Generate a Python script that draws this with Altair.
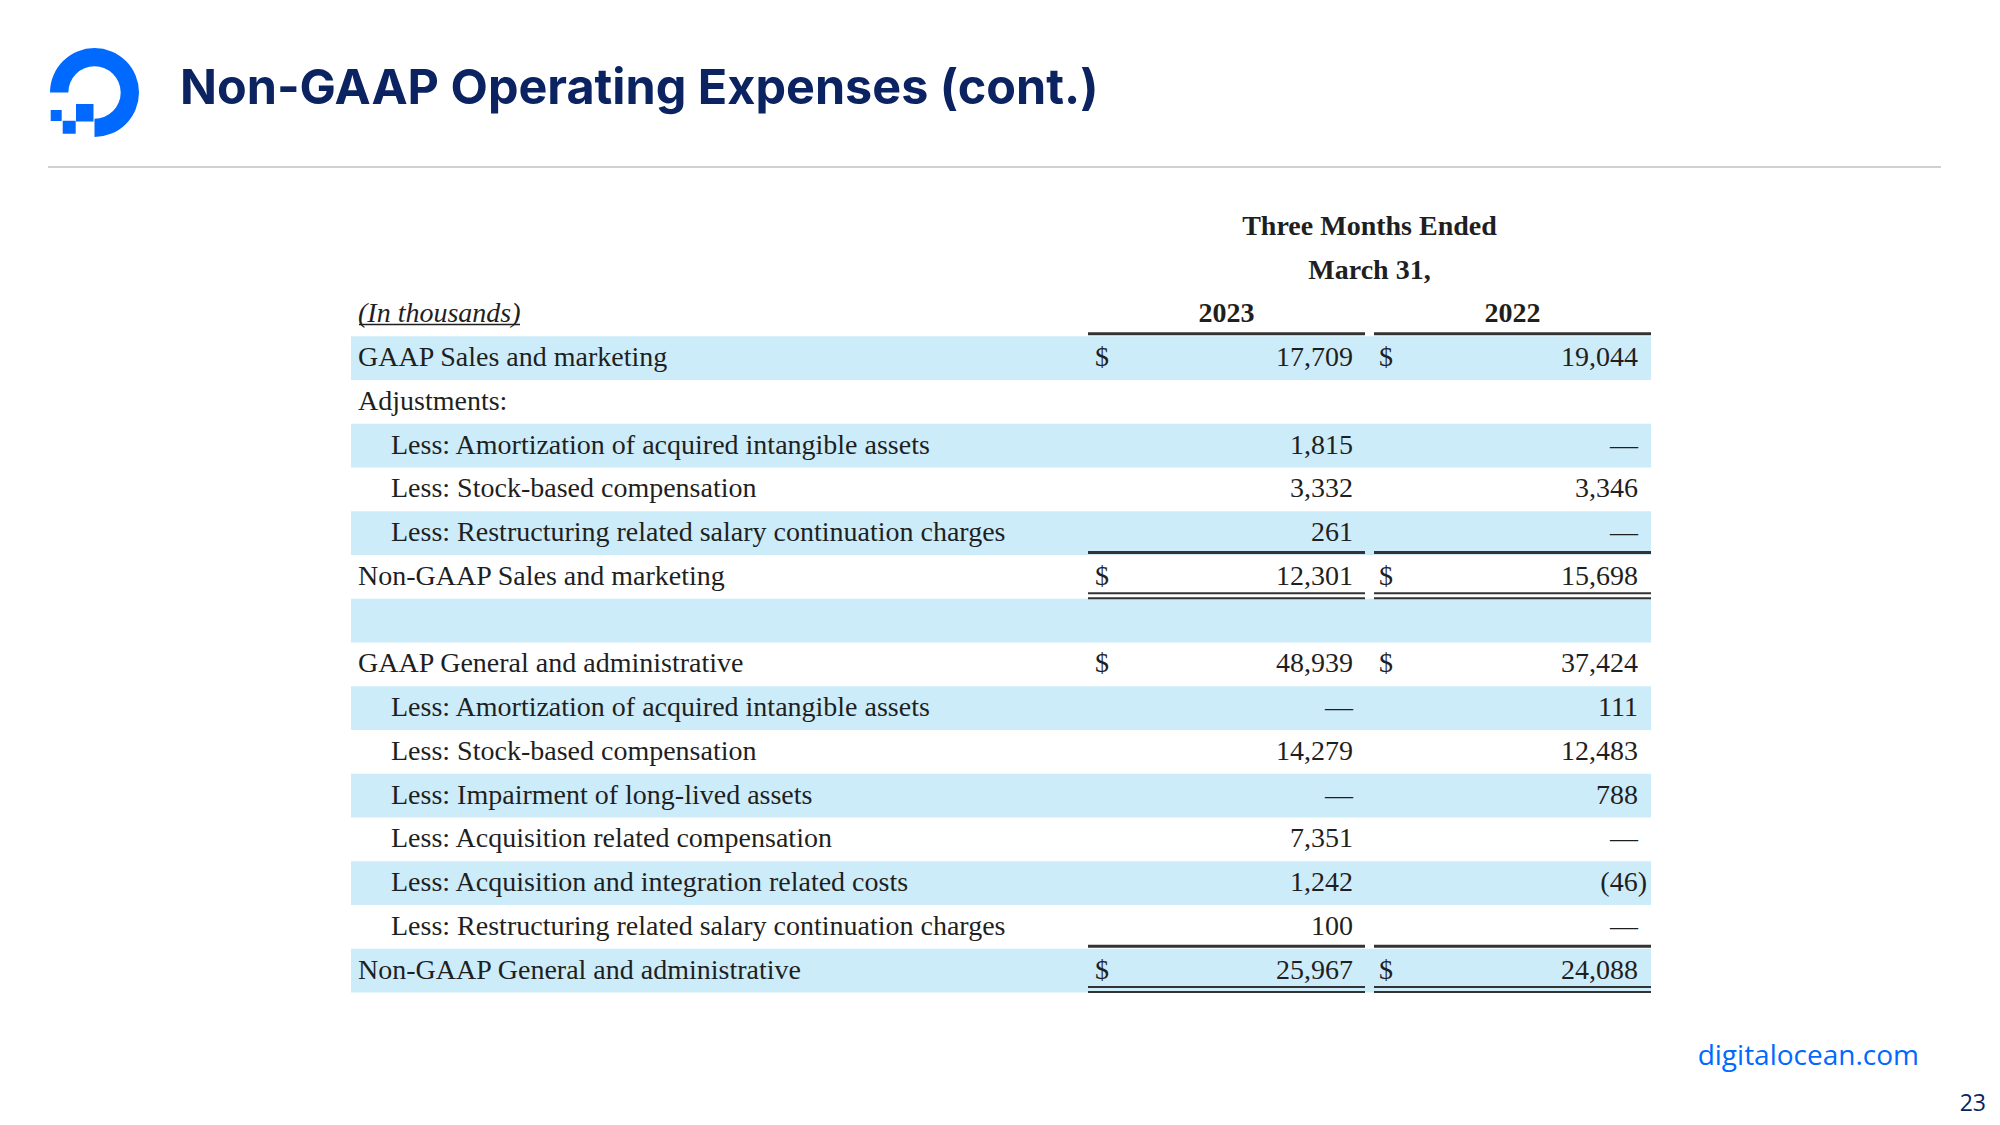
import math
import altair as alt
import pandas as pd

# ---------------- data ----------------
title = "Non-GAAP Operating Expenses (cont.)"
header_top = ["Three Months Ended", "March 31,"]
unit_label = "(In thousands)"
years = ["2023", "2022"]

labels = [
    "GAAP Sales and marketing",
    "Adjustments:",
    "Less: Amortization of acquired intangible assets",
    "Less: Stock-based compensation",
    "Less: Restructuring related salary continuation charges",
    "Non-GAAP Sales and marketing",
    "",
    "GAAP General and administrative",
    "Less: Amortization of acquired intangible assets",
    "Less: Stock-based compensation",
    "Less: Impairment of long-lived assets",
    "Less: Acquisition related compensation",
    "Less: Acquisition and integration related costs",
    "Less: Restructuring related salary continuation charges",
    "Non-GAAP General and administrative",
]
v2023 = [17709, None, 1815, 3332, 261, 12301, None, 48939, 0, 14279, 0, 7351, 1242, 100, 25967]
v2022 = [19044, None, 0, 3346, 0, 15698, None, 37424, 111, 12483, 788, 0, -46, 0, 24088]

footer_site = "digitalocean.com"
page_no = "23"

# ---------------- layout helpers ----------------
OFF = 8  # page margin


def P(v):
    return v - OFF


SERIF = "Liberation Serif"
FS = 28
INK = "#1f1f1f"
SHADE = "#CDECFA"
LINE = "#333333"
NAVY = "#0B2361"
BLUE = "#0069FF"


def fmt(v):
    if v is None:
        return ""
    if v == 0:
        return "\u2014"
    if v < 0:
        return f"({-v:,})"
    return f"{v:,}"


row_keys = [f"r{i:02d}" for i in range(18)]
body = pd.DataFrame({
    "row": row_keys[3:],
    "label": labels,
    "t23": [fmt(v) for v in v2023],
    "t22": [fmt(v) for v in v2022],
    "idx": list(range(len(labels))),
})
body["shaded"] = body["idx"] % 2 == 0
body["total"] = body["label"].str.startswith("GAAP") | body["label"].str.startswith("Non-GAAP")
body["subtotal"] = body["label"].str.startswith("Non-GAAP")
body["indent"] = body["label"].str.startswith("Less:")
body["neg"] = body["t22"].str.startswith("(")
body["dollar"] = body["total"].map(lambda b: "$" if b else "")

yscale = alt.Scale(type="band", domain=row_keys, range=[P(205), P(992.5)],
                   paddingInner=0, paddingOuter=0)


def Yc(pos=0.5):
    return alt.Y("row:N", scale=yscale, axis=None, bandPosition=pos)


layers = []

# shaded bands
layers.append(
    alt.Chart(body[body["shaded"]]).mark_rect(color=SHADE).encode(
        y=alt.Y("row:N", scale=yscale, axis=None),
        x=alt.value(P(351)), x2=alt.value(P(1651)),
    )
)

# header rows
hdr = pd.DataFrame({"row": row_keys[:2], "t": header_top})
layers.append(
    alt.Chart(hdr).mark_text(font=SERIF, fontSize=FS, fontWeight="bold", color=INK,
                             align="center", baseline="middle").encode(
        y=Yc(), x=alt.value(P(1369.5)), text="t:N")
)
for yr, cx in zip(years, [1226.5, 1512.5]):
    layers.append(
        alt.Chart(pd.DataFrame({"row": [row_keys[2]], "t": [yr]})).mark_text(
            font=SERIF, fontSize=FS, fontWeight="bold", color=INK,
            align="center", baseline="middle").encode(
            y=Yc(), x=alt.value(P(cx)), text="t:N")
    )
unit_df = pd.DataFrame({"row": [row_keys[2]], "t": [unit_label]})
layers.append(
    alt.Chart(unit_df).mark_text(font=SERIF, fontSize=FS, fontStyle="italic", color=INK,
                                 align="left", baseline="middle").encode(
        y=Yc(), x=alt.value(P(358)), text="t:N")
)
layers.append(
    alt.Chart(unit_df).mark_rule(color=INK, strokeWidth=1.5, yOffset=10).encode(
        y=Yc(), x=alt.value(P(359)), x2=alt.value(P(520)))
)

# labels
for flag, xx in [(False, 358), (True, 391)]:
    layers.append(
        alt.Chart(body[body["indent"] == flag]).mark_text(
            font=SERIF, fontSize=FS, color=INK, align="left", baseline="middle").encode(
            y=Yc(), x=alt.value(P(xx)), text="label:N")
    )

# dollar signs
for xx in [1095, 1379]:
    layers.append(
        alt.Chart(body[body["total"]]).mark_text(
            font=SERIF, fontSize=FS, color=INK, align="left", baseline="middle").encode(
            y=Yc(), x=alt.value(P(xx)), text="dollar:N")
    )

# values
layers.append(
    alt.Chart(body).mark_text(font=SERIF, fontSize=FS, color=INK, align="right",
                              baseline="middle").encode(
        y=Yc(), x=alt.value(P(1353)), text="t23:N")
)
layers.append(
    alt.Chart(body[~body["neg"]]).mark_text(font=SERIF, fontSize=FS, color=INK, align="right",
                                           baseline="middle").encode(
        y=Yc(), x=alt.value(P(1638)), text="t22:N")
)
layers.append(
    alt.Chart(body[body["neg"]]).mark_text(font=SERIF, fontSize=FS, color=INK, align="right",
                                          baseline="middle").encode(
        y=Yc(), x=alt.value(P(1647)), text="t22:N")
)

# rules
single = body[(body["idx"] == 0) | body["subtotal"]]
double = body[body["subtotal"]]
segs = [(1088, 1365), (1374, 1651)]
for a, b in segs:
    layers.append(
        alt.Chart(single).mark_rule(color=LINE, strokeWidth=3, yOffset=-2.5).encode(
            y=Yc(0), x=alt.value(P(a)), x2=alt.value(P(b)))
    )
    for off in [-5.5, -0.5]:
        layers.append(
            alt.Chart(double).mark_rule(color=LINE, strokeWidth=2.2, yOffset=off).encode(
                y=Yc(1), x=alt.value(P(a)), x2=alt.value(P(b)))
        )

# ---------------- slide decorations ----------------
one = pd.DataFrame({"k": [0]})
cx, cy = 94.5, 92.5
layers.append(
    alt.Chart(one).mark_arc(color=BLUE).encode(
        x=alt.value(P(cx)), y=alt.value(P(cy)),
        theta=alt.value(1.5 * math.pi), theta2=alt.value(3 * math.pi),
        radius=alt.value(44.5), radius2=alt.value(26.2))
)
for (x0, y0, s) in [(76, 104, 17.5), (62.7, 120.8, 13), (50.7, 110, 11)]:
    layers.append(
        alt.Chart(one).mark_rect(color=BLUE).encode(
            x=alt.value(P(x0)), x2=alt.value(P(x0 + s)),
            y=alt.value(P(y0)), y2=alt.value(P(y0 + s)))
    )

layers.append(
    alt.Chart(pd.DataFrame({"t": [title]})).mark_text(
        font="Inter", fontSize=48.5, fontWeight="bold", color=NAVY,
        align="left", baseline="alphabetic").encode(
        x=alt.value(P(180)), y=alt.value(P(104)), text="t:N")
)
layers.append(
    alt.Chart(one).mark_rule(color="#D0D0D0", strokeWidth=2).encode(
        x=alt.value(P(48)), x2=alt.value(P(1941)), y=alt.value(P(167)))
)
layers.append(
    alt.Chart(pd.DataFrame({"t": [footer_site]})).mark_text(
        font="Open Sans", fontSize=28, color=BLUE, align="right", baseline="alphabetic").encode(
        x=alt.value(P(1919)), y=alt.value(P(1065)), text="t:N")
)
layers.append(
    alt.Chart(pd.DataFrame({"t": [page_no]})).mark_text(
        font="Open Sans", fontSize=23, color=NAVY, align="right", baseline="bottom").encode(
        x=alt.value(P(1986)), y=alt.value(P(1116)), text="t:N")
)

chart = alt.layer(*layers).properties(
    width=1984, height=1109, padding=0, autosize="none", background="white"
).configure_view(stroke=None)

chart.save("out.html", embed_options={"renderer": "svg", "actions": False})
